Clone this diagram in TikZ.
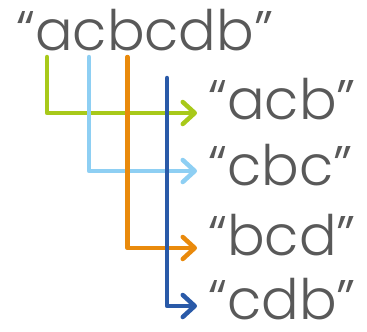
\documentclass[tikz,border=0pt]{standalone}
\usepackage{fontspec}
\setmainfont{Poppins Light}
\usetikzlibrary{arrows.meta}
\definecolor{txt}{HTML}{595959}
\definecolor{cgreen}{HTML}{A8C91A}
\definecolor{clblue}{HTML}{8ECFF3}
\definecolor{corange}{HTML}{E98A0C}
\definecolor{cdblue}{HTML}{2A5AA8}
\begin{document}
\begin{tikzpicture}[x=1bp,y=-1bp,
  word/.style={inner sep=0pt, anchor=base west, text=txt, font=\fontsize{56}{64}\selectfont},
  conn/.style={line width=4.5bp, line cap=round, line join=round,
    -{Straight Barb[length=12bp,width=22bp,line cap=round,line join=round]}}]
\useasboundingbox (0,0) rectangle (367,332);
\node[word] (src) at (16,50) {“acbcdb”};
\node[word] (acb) at (208,119) {“acb”};
\node[word] (cbc) at (208,185) {“cbc”};
\node[word] (bcd) at (208,255) {“bcd”};
\node[word] (cdb) at (208,319) {“cdb”};
\coordinate (s1) at (47,57);
\coordinate (s2) at (89,57);
\coordinate (s3) at (127.5,57);
\coordinate (s4) at (167,78);
\draw[conn,cgreen] (s1) |- ([xshift=-11bp,yshift=6bp]acb.base west);
\draw[conn,clblue] (s2) |- ([xshift=-11bp,yshift=14bp]cbc.base west);
\draw[conn,corange] (s3) |- ([xshift=-11bp,yshift=7bp]bcd.base west);
\draw[conn,cdblue] (s4) |- ([xshift=-11bp,yshift=13bp]cdb.base west);
\end{tikzpicture}
\end{document}
